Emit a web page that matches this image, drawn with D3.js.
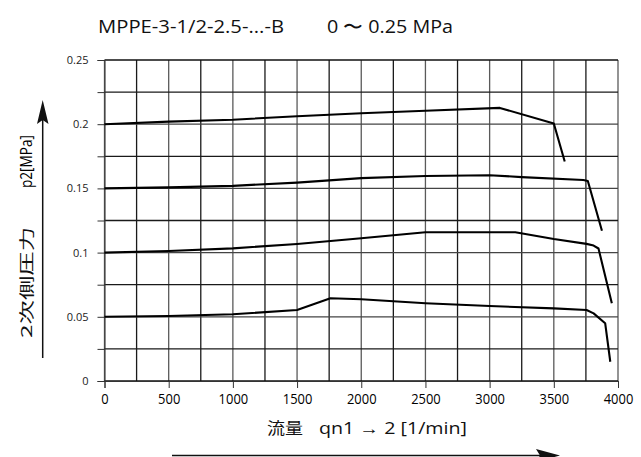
<!DOCTYPE html>
<html><head><meta charset="utf-8">
<script src="https://cdn.jsdelivr.net/npm/d3@7"></script>
<style>
body{margin:0;background:#fff;}
svg{display:block;}
</style></head>
<body>
<script>
const titleLeft = "MPPE-3-1/2-2.5-...-B";
const titleRight = "0 \u301C 0.25 MPa";
const yLabelCJK = "2次側圧力";
const yLabelLatin = "p2[MPa]";
const xLabelCJK = "流量";
const xLabelLatin = "qn1 \u2192 2 [1/min]";
const xTicks = [0,500,1000,1500,2000,2500,3000,3500,4000];
const yTicks = [0,0.05,0.1,0.15,0.2,0.25];
const yTickLabels = ["0","0.05","0.1","0.15","0.2","0.25"];

const curve020 = [[0,0.2],[500,0.202],[1000,0.2035],[1500,0.2062],[2000,0.2085],[2500,0.2105],[3080,0.2127],[3500,0.2005],[3585,0.171]];
const curve015 = [[0,0.15],[500,0.1508],[1000,0.152],[1500,0.1545],[2000,0.158],[2500,0.1597],[3000,0.1603],[3250,0.1588],[3730,0.1565],[3765,0.1557],[3875,0.117]];
const curve010 = [[0,0.1],[500,0.1012],[1000,0.1033],[1500,0.1067],[2000,0.1112],[2500,0.1158],[3200,0.1158],[3500,0.1106],[3755,0.1068],[3810,0.1055],[3848,0.1032],[3952,0.0605]];
const curve005 = [[0,0.05],[500,0.0506],[1000,0.052],[1500,0.0553],[1760,0.0645],[2000,0.0637],[2500,0.0605],[3000,0.0584],[3500,0.0566],[3755,0.0553],[3810,0.0527],[3900,0.045],[3940,0.015]];
const curves = [curve020, curve015, curve010, curve005];

const W = 641, H = 457;
const svg = d3.select("body").append("svg").attr("width", W).attr("height", H);
const x = d3.scaleLinear().domain([0,4000]).range([104.5,618]);
const y = d3.scaleLinear().domain([0,0.25]).range([381,60]);

const grid = svg.append("g");
d3.range(0,4001,250).forEach((v,i)=>{
  grid.append("line").attr("x1",x(v)).attr("x2",x(v)).attr("y1",y(0)).attr("y2",y(0.25))
    .attr("stroke", i%2 ? "#1a1a1a" : "#5a5a5a").attr("stroke-width",1.3);
});
d3.range(0,11).forEach(i=>{
  const v = i*0.025;
  grid.append("line").attr("x1",x(0)).attr("x2",x(4000)).attr("y1",y(v)).attr("y2",y(v))
    .attr("stroke", (i===0||i===10) ? "#111" : (i%2 ? "#1a1a1a" : "#444")).attr("stroke-width",1.3);
});

// y axis ticks
const yAxis = d3.axisLeft(y).tickValues(d3.range(0,11).map(i=>i*0.025)).tickSize(7)
  .tickFormat(d=>{const k=yTicks.findIndex(t=>Math.abs(t-d)<1e-9); return k>=0?yTickLabels[k]:"";}).tickPadding(9);
const gy = svg.append("g").attr("transform",`translate(${x(0)},0)`).call(yAxis);
gy.select(".domain").attr("stroke","#333");
gy.selectAll(".tick line").attr("stroke","#333");
gy.selectAll("text").attr("font-family","'Open Sans', sans-serif").attr("font-size",11).attr("fill","#222");

const xAxis = d3.axisBottom(x).tickValues(xTicks).tickSize(7).tickFormat(d=>String(d)).tickPadding(5);
const gx = svg.append("g").attr("transform",`translate(0,${y(0)})`).call(xAxis);
gx.select(".domain").attr("stroke","#333");
gx.selectAll(".tick line").attr("stroke","#333");
gx.selectAll("text").attr("font-family","'Open Sans', sans-serif").attr("font-size",15).attr("fill","#000")
  .attr("textLength",d=>String(d).length*7.4).attr("lengthAdjust","spacingAndGlyphs");

const line = d3.line().x(d=>x(d[0])).y(d=>y(d[1]));
svg.append("g").selectAll("path").data(curves).join("path")
  .attr("d",line).attr("fill","none").attr("stroke","#000").attr("stroke-width",2.1).attr("stroke-linejoin","round");

// title
const tf = "'Open Sans', sans-serif";
svg.append("text").attr("x",98).attr("y",33).attr("font-family",tf).attr("font-size",18).attr("fill","#111")
  .attr("textLength",186).attr("lengthAdjust","spacingAndGlyphs").text(titleLeft);
svg.append("text").attr("x",327).attr("y",33).attr("font-family",tf).attr("font-size",18).attr("fill","#111")
  .attr("textLength",126).attr("lengthAdjust","spacingAndGlyphs").text(titleRight);

// y label
const yl = svg.append("g").attr("transform","translate(32,0) rotate(-90)");
yl.append("text").attr("x",-338).attr("y",0).attr("font-family","'Noto Sans CJK JP', sans-serif").attr("font-size",15)
  .attr("textLength",111).attr("lengthAdjust","spacingAndGlyphs").attr("fill","#111").text(yLabelCJK);
yl.append("text").attr("x",-188).attr("y",0).attr("font-family",tf).attr("font-size",16.5)
  .attr("textLength",53).attr("lengthAdjust","spacingAndGlyphs").attr("fill","#000").text(yLabelLatin);
// y arrow
svg.append("line").attr("x1",42.7).attr("x2",42.7).attr("y1",358).attr("y2",115).attr("stroke","#111").attr("stroke-width",1.5);
svg.append("path").attr("d","M42.7,100 L48.5,124 L42.7,120 L37,124 Z").attr("fill","#111");

// x label
svg.append("text").attr("x",267).attr("y",434).attr("font-family","'Noto Sans CJK JP', sans-serif").attr("font-size",16)
  .attr("textLength",36).attr("lengthAdjust","spacingAndGlyphs").attr("fill","#111").text(xLabelCJK);
svg.append("text").attr("x",319).attr("y",434).attr("font-family",tf).attr("font-size",16)
  .attr("textLength",148).attr("lengthAdjust","spacingAndGlyphs").attr("fill","#111").text(xLabelLatin);
// x arrow
svg.append("line").attr("x1",172).attr("x2",545).attr("y1",455.5).attr("y2",455.5).attr("stroke","#111").attr("stroke-width",1.5);
svg.append("path").attr("d","M560,455.5 L536,449 L540,455.5 L536,462 Z").attr("fill","#111");
</script>
</body></html>
